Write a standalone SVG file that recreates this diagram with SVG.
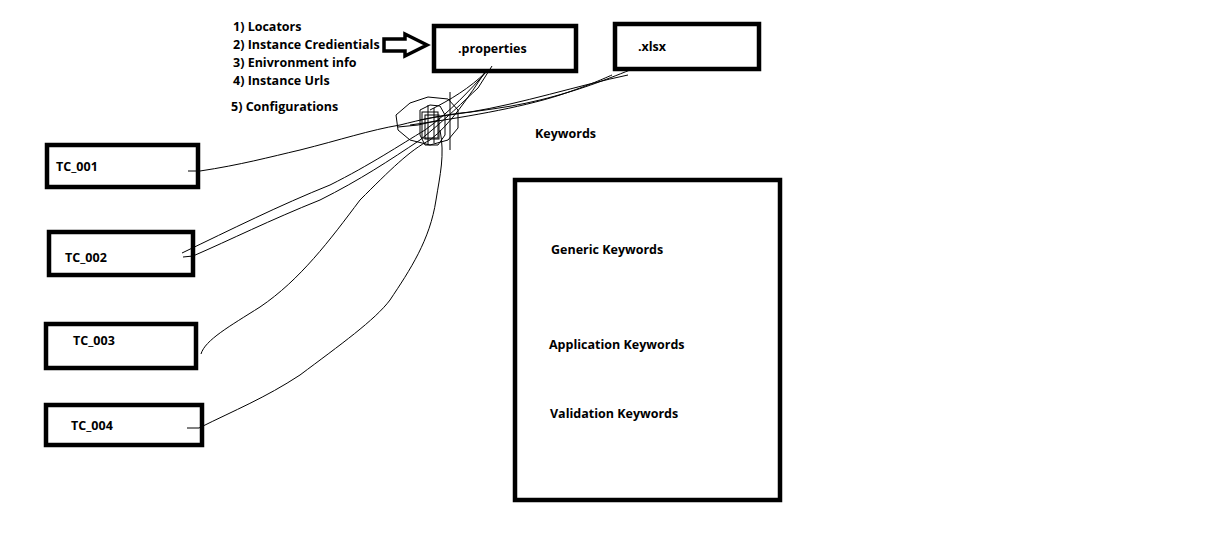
<svg xmlns="http://www.w3.org/2000/svg" width="1210" height="556" viewBox="0 0 1210 556">
<style>
.box{fill:#fff;stroke:#000;stroke-width:4.5}
.t{font-family:"Open Sans","Liberation Sans",sans-serif;font-weight:bold;font-size:12.5px;fill:#000}
.w{fill:none;stroke:#000;stroke-width:1}
</style>
<rect width="1210" height="556" fill="#fff"/>
<g id="config-list">
<text class="t" x="233" y="31">1) Locators</text>
<text class="t" x="233" y="49">2) Instance Credientials</text>
<text class="t" x="233" y="67">3) Enivronment info</text>
<text class="t" x="233" y="85">4) Instance Urls</text>
<text class="t" x="231" y="111">5) Configurations</text>
</g>
<g id="block-arrow">
<polygon points="384,39 405,39 405,34 427,45 405,56 405,51 384,51" fill="#fff" stroke="#000" stroke-width="3.5" stroke-linejoin="miter"/>
</g>
<g id="properties">
<rect class="box" x="434" y="26" width="142" height="45"/>
<text class="t" x="458" y="53">.properties</text>
</g>
<g id="xlsx">
<rect class="box" x="615" y="24" width="144" height="45"/>
<text class="t" x="638" y="51">.xlsx</text>
</g>
<g id="keywords-label">
<text class="t" x="535" y="138">Keywords</text>
</g>
<g id="tc001">
<rect class="box" x="47" y="145" width="151" height="42"/>
<text class="t" x="56" y="171">TC_001</text>
</g>
<g id="tc002">
<rect class="box" x="49" y="232" width="144" height="43"/>
<text class="t" x="65" y="262">TC_002</text>
</g>
<g id="tc003">
<rect class="box" x="46" y="324" width="150" height="44"/>
<text class="t" x="73" y="345">TC_003</text>
</g>
<g id="tc004">
<rect class="box" x="46" y="405" width="156" height="40"/>
<text class="t" x="71" y="430">TC_004</text>
</g>
<g id="keywords">
<rect class="box" x="515" y="180" width="265" height="320"/>
<text class="t" x="551" y="254">Generic Keywords</text>
<text class="t" x="549" y="349">Application Keywords</text>
<text class="t" x="550" y="418">Validation Keywords</text>
</g>
<g id="connectors">
<path class="w" d="M188,171 L200,171 C240,165 270,157 300,150 C340,140 370,130 400,125 C420,120 440,115 470,112 C520,104 580,85 628,75"/>
<path class="w" d="M183,257 L193,256 C230,240 270,220 320,200 C360,180 390,160 420,140 C445,120 465,100 478,88 L492,66"/>
<path class="w" d="M182,253 C230,230 280,205 330,185 C370,165 400,145 425,130 C450,112 470,90 488,70"/>
<path class="w" d="M201,354 C205,340 230,326 260,307 C300,280 330,240 360,200 C390,170 410,150 430,140 C450,125 470,95 485,72"/>
<path class="w" d="M187,428 L199,428 C235,410 265,398 300,375 C340,345 375,320 390,300 C410,270 430,240 436,200 C440,175 445,155 440,130"/>
<path class="w" d="M420,120 C460,112 500,110 540,100 C580,90 605,80 630,70"/>
<path class="w" d="M410,125 C460,118 520,108 560,95 C590,85 605,78 612,75"/>
<path class="w" d="M430,110 C450,100 470,88 486,72"/>
</g>
<g id="tangle">
<polygon class="w" points="410,103 428,97 448,99 458,110 458,128 448,140 430,145 410,140 398,130 396,115"/>
<polygon class="w" points="420,110 430,105 440,106 445,115 445,135 438,145 425,145 420,135"/>
<rect class="w" x="422" y="112" width="16" height="26"/>
<rect class="w" x="425" y="115" width="14" height="24"/>
<line class="w" x1="450" y1="92" x2="450" y2="150"/>
<line class="w" x1="428" y1="105" x2="428" y2="145"/>
<line class="w" x1="434" y1="108" x2="434" y2="143"/>
<path class="w" d="M398,127 L418,125 L440,120"/>
</g>
</svg>
